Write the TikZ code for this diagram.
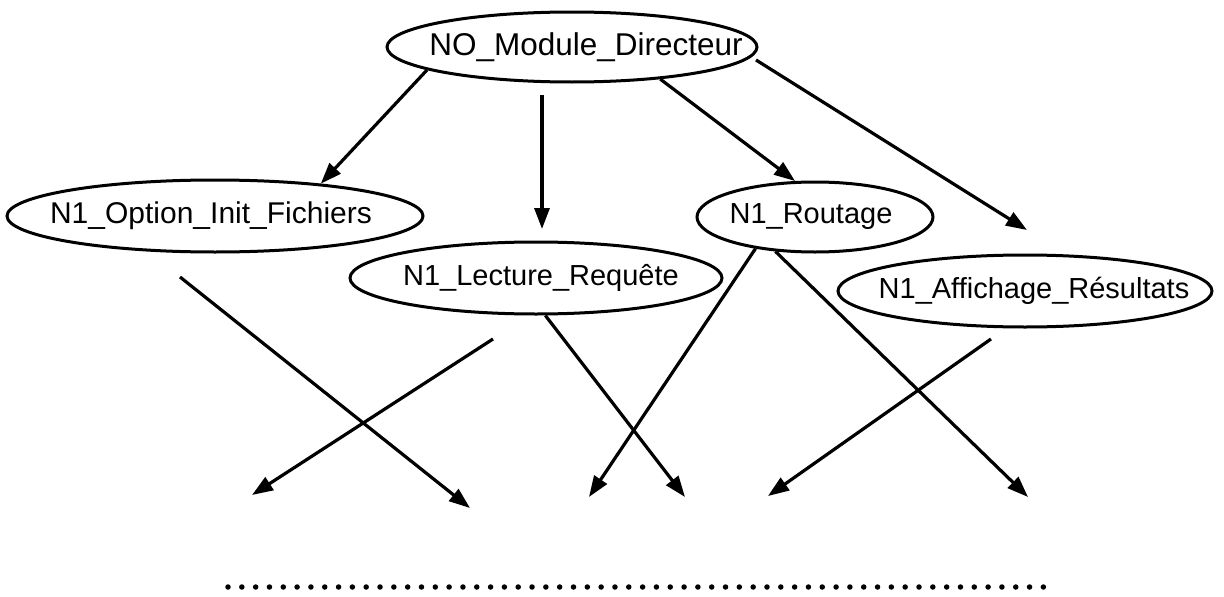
\documentclass[tikz,border=0pt]{standalone}
\usepackage{fontspec}
\setmainfont{Liberation Sans}
\usetikzlibrary{shapes.geometric,arrows.meta}
\begin{document}
\begin{tikzpicture}[x=1pt,y=-1pt,
  ell/.style={draw,ellipse,line width=3pt,inner sep=0pt},
  txt/.style={inner sep=0pt,font=\fontsize{29}{34}\selectfont},
  arr/.style={line width=3.2pt,-{Triangle[length=21pt,width=15pt]}},
  dotline/.style={line width=5.5pt,line cap=round,dash pattern=on 0pt off 13.82pt},
]
\useasboundingbox (0,0) rectangle (1224,597);
% nodes
\node[ell,minimum width=370pt,minimum height=70pt] (top) at (572,47) {};
\node[txt,font=\fontsize{31.5}{36}\selectfont] (toplbl) at (586,47) {NO\_Module\_Directeur};
\node[ell,minimum width=416pt,minimum height=72pt] (opt) at (215,216) {};
\node[txt,font=\fontsize{30}{35}\selectfont] (optlbl) at (211,216) {N1\_Option\_Init\_Fichiers};
\node[ell,minimum width=372pt,minimum height=72pt] (lec) at (536,278) {};
\node[txt] (leclbl) at (541,278) {N1\_Lecture\_Requête};
\node[ell,minimum width=236pt,minimum height=70pt] (rout) at (815,217) {};
\node[txt] (routlbl) at (811,217) {N1\_Routage};
\node[ell,minimum width=374pt,minimum height=72pt] (aff) at (1025,291) {};
\node[txt] (afflbl) at (1034,291) {N1\_Affichage\_Résultats};
% free ends
\coordinate (a2s) at (542,95);
\coordinate (a2e) at (542,229);
\coordinate (a4s) at (756,60);
\coordinate (a4e) at (1027,230);
\coordinate (l1s) at (180,277);
\coordinate (l1e) at (470,508);
\coordinate (l2s) at (493,339);
\coordinate (l2e) at (252,495);
\coordinate (l3e) at (685,497);
\coordinate (l4e) at (589,497);
\coordinate (l5e) at (1028,497);
\coordinate (l6s) at (991,339);
\coordinate (l6e) at (768,496);
\coordinate (dl) at (228,587);
\coordinate (dr) at (1057,587);
% connectors from top
\draw[arr] (top.189) -- (opt.17);
\draw[arr] (a2s) -- (a2e);
\draw[arr] (top.340) -- (rout.119);
\draw[arr] (a4s) -- (a4e);
% lower connectors
\draw[arr] (l1s) -- (l1e);
\draw[arr] (l2s) -- (l2e);
\draw[arr] (lec.284) -- (l3e);
\draw[arr] (rout.208) -- (l4e);
\draw[arr] (rout.221) -- (l5e);
\draw[arr] (l6s) -- (l6e);
% dotted line
\draw[dotline] (dl) -- (dr);
\end{tikzpicture}
\end{document}
